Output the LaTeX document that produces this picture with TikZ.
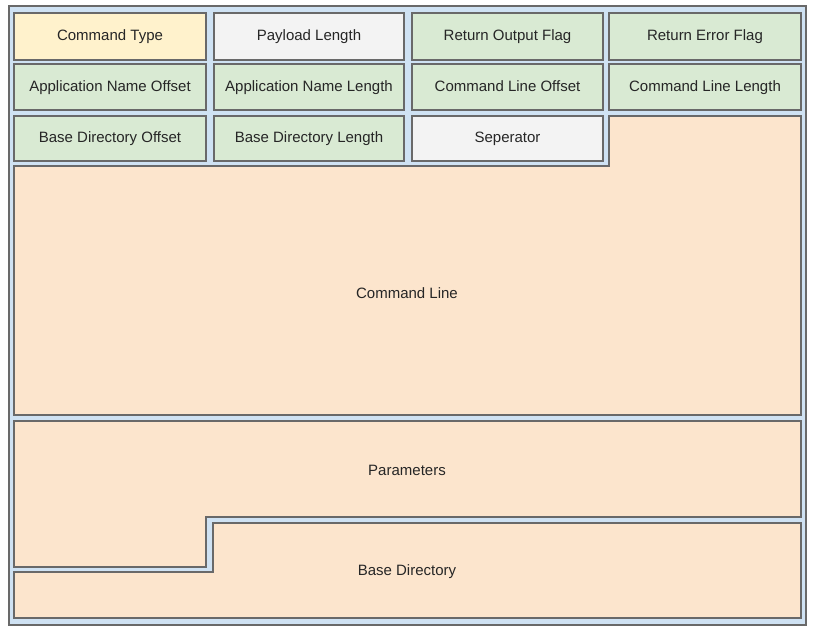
\documentclass[tikz,border=0pt]{standalone}
\usepackage{fontspec}
\setmainfont{Liberation Sans}
\usepackage{xcolor}
\definecolor{frm}{RGB}{207, 226, 243}
\definecolor{hdr}{RGB}{255, 242, 204}
\definecolor{gry}{RGB}{243, 243, 243}
\definecolor{fld}{RGB}{217, 234, 211}
\definecolor{bdy}{RGB}{252, 229, 205}
\definecolor{edg}{RGB}{105, 105, 105}

\tikzset{
  field/.style={draw=edg, line width=1.1pt, anchor=north west, inner sep=0pt, outer sep=0pt,
    text height=11pt, text depth=3pt,
    font=\fontsize{15}{18}\selectfont, text=black!85},
  region/.style={draw=edg, fill=bdy, line width=1.1pt},
  label/.style={font=\fontsize{15}{18}\selectfont, text=black!85}
}

\begin{document}
\begin{tikzpicture}[x=1pt, y=-1pt]
      \useasboundingbox (0, 0) rectangle (825, 638);
      \draw[color=edg, fill=frm, line width=1.1pt] (9, 6) rectangle (806, 625);
      % first row
      \node[field, fill=hdr, minimum width=192pt, minimum height=47pt] (cmdtype) at (14, 13) {Command Type};
      \node[field, fill=gry, minimum width=190pt, minimum height=47pt] (paylen) at (214, 13) {Payload Length};
      \node[field, fill=fld, minimum width=191pt, minimum height=47pt] (retout) at (412, 13) {Return Output Flag};
      \node[field, fill=fld, minimum width=192pt, minimum height=47pt] (reterr) at (609, 13) {Return Error Flag};
      % second row
      \node[field, fill=fld, minimum width=192pt, minimum height=46pt] (appoff) at (14, 64) {Application Name Offset};
      \node[field, fill=fld, minimum width=190pt, minimum height=46pt] (applen) at (214, 64) {Application Name Length};
      \node[field, fill=fld, minimum width=191pt, minimum height=46pt] (cmdoff) at (412, 64) {Command Line Offset};
      \node[field, fill=fld, minimum width=192pt, minimum height=46pt] (cmdlen) at (609, 64) {Command Line Length};
      % third row
      \node[field, fill=fld, minimum width=192pt, minimum height=45pt] (diroff) at (14, 116) {Base Directory Offset};
      \node[field, fill=fld, minimum width=190pt, minimum height=45pt] (dirlen) at (214, 116) {Base Directory Length};
      \node[field, fill=gry, minimum width=191pt, minimum height=45pt] (sep) at (412, 116) {Seperator};
      % variable parts
      \draw[region] (14, 166) -- (609, 166) -- (609, 116) -- (801, 116) -- (801, 415) -- (14, 415) -- cycle;
      \node[label] (cmdline) at (407, 293) {Command Line};
      \draw[region] (14, 421) -- (801, 421) -- (801, 517) -- (206, 517) -- (206, 567) -- (14, 567) -- cycle;
      \node[label] (params) at (407, 470) {Parameters};
      \draw[region] (213, 523) -- (801, 523) -- (801, 618) -- (14, 618) -- (14, 572) -- (213, 572) -- cycle;
      \node[label] (basedir) at (407, 572) {Base Directory};
    \end{tikzpicture}
\end{document}
